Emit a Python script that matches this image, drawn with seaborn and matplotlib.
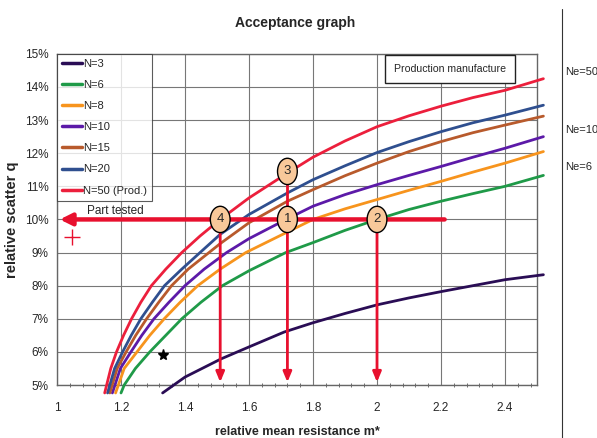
import pandas as pd
import numpy as np
import seaborn as sns
import matplotlib.pyplot as plt
from matplotlib.ticker import MultipleLocator, FuncFormatter

# curves: relative mean resistance m* and relative scatter q (%)
m_n3 = [1.33, 1.40, 1.513, 1.60, 1.71, 1.80, 1.90, 2.00, 2.10, 2.20, 2.30, 2.40, 2.52]
q_n3 = [4.76, 5.24, 5.79, 6.15, 6.60, 6.88, 7.16, 7.42, 7.63, 7.82, 8.00, 8.18, 8.33]

m_n6 = [1.20, 1.21, 1.245, 1.29, 1.34, 1.39, 1.45, 1.517, 1.60, 1.715, 1.80, 1.90, 2.00, 2.10, 2.20, 2.30, 2.40, 2.52]
q_n6 = [4.76, 5.0, 5.5, 6.0, 6.5, 7.0, 7.5, 8.0, 8.45, 9.0, 9.3, 9.67, 10.0, 10.3, 10.55, 10.78, 11.0, 11.33]

m_n8 = [1.183, 1.21, 1.25, 1.29, 1.335, 1.385, 1.44, 1.51, 1.59, 1.72, 1.80, 1.90, 2.00, 2.10, 2.20, 2.30, 2.40, 2.52]
q_n8 = [4.76, 5.5, 6.0, 6.5, 7.0, 7.5, 8.0, 8.5, 9.0, 9.62, 10.0, 10.32, 10.6, 10.88, 11.15, 11.43, 11.7, 12.05]

m_n10 = [1.173, 1.198, 1.231, 1.265, 1.303, 1.35, 1.40, 1.46, 1.53, 1.60, 1.72, 1.80, 1.90, 2.00, 2.10, 2.20, 2.30, 2.40, 2.52]
q_n10 = [4.76, 5.5, 6.0, 6.5, 7.0, 7.5, 8.0, 8.5, 9.0, 9.42, 10.02, 10.4, 10.75, 11.05, 11.33, 11.6, 11.88, 12.15, 12.5]

m_n15 = [1.165, 1.188, 1.216, 1.246, 1.28, 1.318, 1.358, 1.41, 1.475, 1.51, 1.60, 1.72, 1.80, 1.90, 2.00, 2.10, 2.20, 2.30, 2.40, 2.52]
q_n15 = [4.76, 5.5, 6.0, 6.5, 7.0, 7.5, 8.0, 8.5, 9.0, 9.27, 9.9, 10.55, 10.9, 11.32, 11.7, 12.05, 12.35, 12.62, 12.85, 13.12]

m_n20 = [1.158, 1.18, 1.205, 1.232, 1.262, 1.298, 1.336, 1.39, 1.447, 1.51, 1.60, 1.72, 1.80, 1.90, 2.00, 2.10, 2.20, 2.30, 2.40, 2.52]
q_n20 = [4.76, 5.5, 6.0, 6.5, 7.0, 7.5, 8.0, 8.5, 9.0, 9.55, 10.15, 10.8, 11.2, 11.62, 12.02, 12.35, 12.65, 12.92, 13.15, 13.45]

m_n50 = [1.149, 1.168, 1.186, 1.208, 1.233, 1.262, 1.295, 1.34, 1.39, 1.447, 1.51, 1.60, 1.72, 1.80, 1.90, 2.00, 2.10, 2.20, 2.30, 2.40, 2.52]
q_n50 = [4.76, 5.5, 6.0, 6.5, 7.0, 7.5, 8.0, 8.5, 9.0, 9.5, 10.0, 10.65, 11.4, 11.88, 12.37, 12.8, 13.13, 13.42, 13.68, 13.9, 14.25]

labels = ['N=3', 'N=6', 'N=8', 'N=10', 'N=15', 'N=20', 'N=50 (Prod.)']
colors = ['#2a0d55', '#1f9a48', '#f7941d', '#5c1aa8', '#b85a2c', '#2f4f8f', '#ec1f3c']

# worked example points on the chart
q_test = 10.0
m_points = [1.72, 2.00, 1.72, 1.51]
q_points = [10.0, 10.0, 11.45, 10.0]
point_names = ['1', '2', '3', '4']

frames = []
for lab, m, q in zip(labels, [m_n3, m_n6, m_n8, m_n10, m_n15, m_n20, m_n50],
                     [q_n3, q_n6, q_n8, q_n10, q_n15, q_n20, q_n50]):
    frames.append(pd.DataFrame({'m': m, 'q': q, 'curve': lab}))
df = pd.concat(frames, ignore_index=True)

sns.set_style('white')
plt.rcParams['font.family'] = ['Liberation Sans', 'DejaVu Sans']

fig = plt.figure(figsize=(5.97, 4.38), dpi=100)
ax = fig.add_axes([0.0955, 0.121, 0.804, 0.756])

sns.lineplot(data=df, x='m', y='q', hue='curve', hue_order=labels,
             palette=colors, sort=False, estimator=None, linewidth=2.0,
             clip_on=False, ax=ax, zorder=3, legend=False)

ax.set_xlim(1, 2.5)
ax.set_ylim(5, 15)
ax.xaxis.set_major_locator(MultipleLocator(0.2))
ax.xaxis.set_minor_locator(MultipleLocator(0.04))
ax.yaxis.set_major_locator(MultipleLocator(1))
ax.xaxis.set_major_formatter(FuncFormatter(lambda v, p: f'{v:g}'))
ax.yaxis.set_major_formatter(FuncFormatter(lambda v, p: f'{v:.0f}%'))
ax.grid(True, which='major', color='#777777', linewidth=0.8)
ax.tick_params(axis='y', which='major', labelsize=8.5, length=0, pad=6)
ax.tick_params(axis='x', which='major', labelsize=8.5, length=0, pad=12)
ax.tick_params(axis='x', which='minor', length=3, direction='inout',
               color='#555555', bottom=True)
for s in ax.spines.values():
    s.set_color('#666666')
    s.set_linewidth(1.0)

ax.set_xlabel('relative mean resistance m*', fontsize=9, fontweight='bold', labelpad=9)
ax.set_ylabel('relative scatter q', fontsize=10.5, fontweight='bold', labelpad=4)
fig.text(0.495, 0.948, 'Acceptance graph', ha='center', va='center',
         fontsize=10, fontweight='bold')

# legend built from the drawn lines
handles = [plt.Line2D([], [], color=c, lw=2.5) for c in colors]
leg = ax.legend(handles, labels, loc='upper left', bbox_to_anchor=(0.0, 1.0),
                fontsize=8, frameon=True, fancybox=False, edgecolor='#333333',
                handlelength=1.8, handletextpad=0.1,
                labelspacing=1.0, borderpad=0.45, borderaxespad=0.0)
leg.get_frame().set_linewidth(0.8)

# red arrows of the worked example
red = '#e8102e'
ax.annotate('', xy=(1.0, q_test), xytext=(2.22, q_test),
            arrowprops=dict(arrowstyle='-|>,head_length=0.7,head_width=0.35',
                            color=red, lw=3.2), zorder=4)
for mx in [m_points[3], m_points[0], m_points[1]]:
    ax.annotate('', xy=(mx, 5.0), xytext=(mx, q_test),
                arrowprops=dict(arrowstyle='-|>,head_length=0.6,head_width=0.25',
                                color=red, lw=2.0), zorder=4)
ax.plot([m_points[2], m_points[2]], [q_test, q_points[2]], color=red, lw=2.0, zorder=4)

for mx, qy, name in zip(m_points, q_points, point_names):
    ax.text(mx, qy, name, ha='center', va='center', fontsize=9.5, zorder=6,
            bbox=dict(boxstyle='ellipse,pad=0.25', fc='#f8c89a', ec='black', lw=1.0))

ax.text(1.093, 10.25, 'Part tested', fontsize=8.5, ha='left', va='center')
ax.plot([1.047], [9.48], marker='+', color=red, markersize=11, mew=1.0, zorder=5)
ax.plot([1.33], [5.91], marker='*', color='black', markersize=8, zorder=5)

ax.text(2.229, 14.55, 'Production manufacture', fontsize=7.6, ha='center', va='center',
        bbox=dict(boxstyle='square,pad=0.85', fc='white', ec='#222222', lw=1.0), zorder=6)

# right margin notes
fig.add_artist(plt.Line2D([0.941, 0.941], [0.0, 0.98], color='#333333', lw=0.8))
fig.text(0.946, 0.835, 'Ne=50', fontsize=8, va='center')
fig.text(0.946, 0.703, 'Ne=10', fontsize=8, va='center')
fig.text(0.946, 0.618, 'Ne=6', fontsize=8, va='center')

fig.savefig('out.png', dpi=100)
